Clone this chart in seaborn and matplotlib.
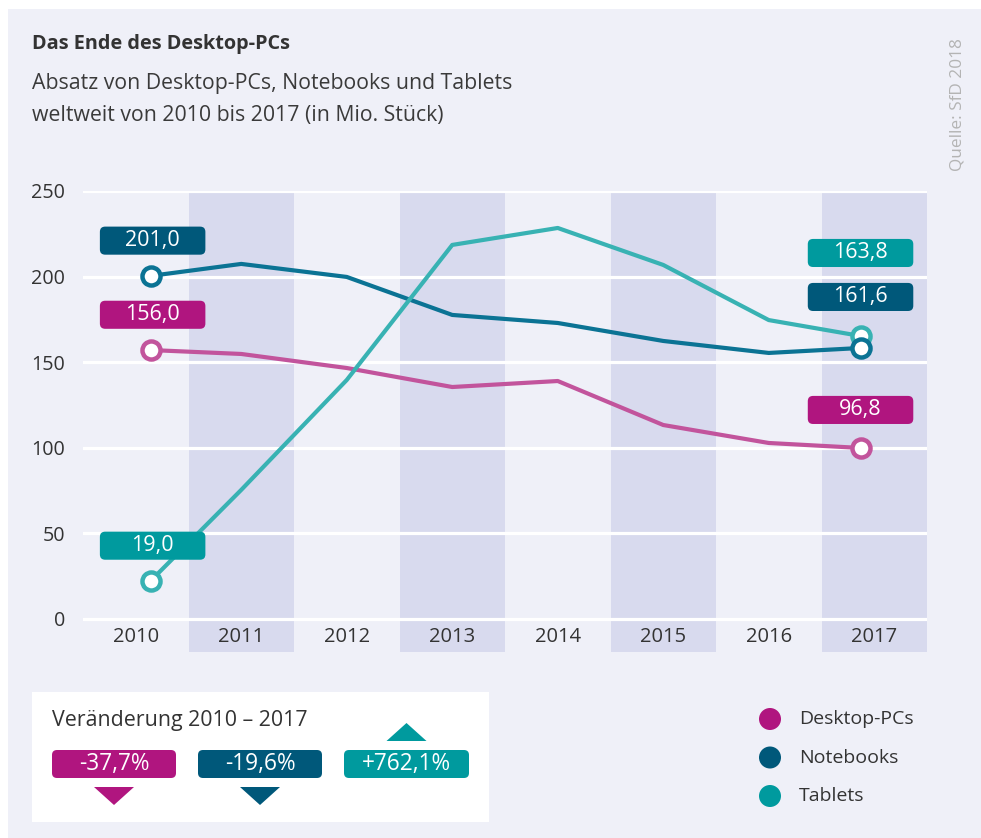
import numpy as np
import pandas as pd
import seaborn as sns
import matplotlib.pyplot as plt
from matplotlib.patches import FancyBboxPatch, Rectangle, Polygon, Circle

years = [2010, 2011, 2012, 2013, 2014, 2015, 2016, 2017]
desktop = [157.1, 154.8, 146.6, 135.5, 139.0, 113.3, 102.8, 99.9]
notebooks = [200.4, 207.4, 199.8, 177.6, 172.9, 162.4, 155.4, 158.3]
tablets = [22.2, 75.4, 139.6, 218.5, 228.4, 206.8, 174.6, 165.3]

series = ["Desktop-PCs", "Notebooks", "Tablets"]
start_labels = ["156,0", "201,0", "19,0"]
end_labels = ["96,8", "161,6", "163,8"]
changes = ["-37,7%", "-19,6%", "+762,1%"]
y_ticks = [0, 50, 100, 150, 200, 250]

dark = ["#b0157f", "#00587a", "#009a9e"]
light = ["#c2549c", "#0b7394", "#38b2b3"]
BG = "#eff0f8"
BAND = "#d8daee"
TXT = "#333333"

df = pd.DataFrame({
    "Jahr": years * 3,
    "Absatz": desktop + notebooks + tablets,
    "Gerät": np.repeat(series, len(years)),
})
# end points sit a little inside the outer year columns
df["x"] = df["Jahr"].astype(float)
df.loc[df["Jahr"] == years[0], "x"] += 0.14
df.loc[df["Jahr"] == years[-1], "x"] -= 0.13

sns.set_style("white")
plt.rcParams["font.family"] = ["Open Sans", "DejaVu Sans"]

fig = plt.figure(figsize=(9.81, 8.38), dpi=100, facecolor="white")

# --------------------------------------------------
# background layer in pixel coordinates
# --------------------------------------------------
bg = fig.add_axes([0, 0, 1, 1], zorder=0)
bg.set_xlim(0, 981)
bg.set_ylim(838, 0)
bg.axis("off")
bg.add_patch(Rectangle((8, 9), 981, 838, color=BG, lw=0))

bg.text(32, 44, "Das Ende des Desktop-PCs", fontsize=14.3, fontweight="bold",
        color=TXT, va="center", ha="left")
bg.text(32, 83, "Absatz von Desktop-PCs, Notebooks und Tablets",
        fontsize=15.3, color="#3a3a3a", va="center", ha="left")
bg.text(32, 115, "weltweit von 2010 bis 2017 (in Mio. Stück)",
        fontsize=15.3, color="#3a3a3a", va="center", ha="left")
bg.text(958, 105, "Quelle: SfD 2018", fontsize=12.4, color="#b4b4b4",
        rotation=90, va="center", ha="center")

# change box
bg.add_patch(Rectangle((32, 692), 457, 130, color="white", lw=0))
bg.text(52, 720, "Veränderung 2010 – 2017", fontsize=15.4, color=TXT,
        va="center", ha="left")
box_x = [52, 198, 344]
box_w = [124, 124, 125]
for i, txt in enumerate(changes):
    bg.add_patch(FancyBboxPatch((box_x[i], 750), box_w[i], 28,
                                boxstyle="round,pad=0,rounding_size=5",
                                color=dark[i], lw=0))
    cx = box_x[i] + box_w[i] / 2
    bg.text(cx, 764, txt, fontsize=16.3, color="white", va="center", ha="center")
    if txt.startswith("-"):
        bg.add_patch(Polygon([(cx - 20, 787), (cx + 20, 787), (cx, 805)],
                             color=dark[i], lw=0))
    else:
        bg.add_patch(Polygon([(cx - 20, 741), (cx + 20, 741), (cx, 723)],
                             color=dark[i], lw=0))

# legend
for i, name in enumerate(series):
    yy = 719 + i * 38.5
    bg.add_patch(Circle((770, yy), 11, color=dark[i], lw=0))
    bg.text(799, yy, name, fontsize=14, color=TXT, va="center", ha="left")

# --------------------------------------------------
# chart
# --------------------------------------------------
ax = fig.add_axes([83 / 981, 1 - 652 / 838, 844 / 981, 461 / 838], zorder=1)
ax.set_facecolor(BG)
ax.set_xlim(2009.5, 2017.5)
ax.set_ylim(-19.3, 250)

for yr in years:
    if yr % 2 == 1:
        ax.axvspan(yr - 0.5, yr + 0.5, color=BAND, lw=0, zorder=0)

for t in y_ticks:
    ax.axhline(t, color="white", lw=2.3, zorder=1)

sns.lineplot(data=df, x="x", y="Absatz", hue="Gerät", palette=light,
             lw=3, legend=False, ax=ax, zorder=3)

for i, name in enumerate(series):
    sub = df[df["Gerät"] == name]
    xs = sub["x"].to_numpy()
    vals = sub["Absatz"].to_numpy()
    z = 5 if name == "Notebooks" else 4
    ax.plot([xs[0], xs[-1]], [vals[0], vals[-1]], ls="none", marker="o",
            ms=13, mew=3.2, mfc="white", mec=light[i], zorder=z)

xw = 1.0
yh = 16.4
asp = (844 / 8) / (428 / 250)
end_off = [22.2, 29.8, 48.5]
for i, name in enumerate(series):
    sub = df[df["Gerät"] == name]
    xs = sub["x"].to_numpy()
    vals = sub["Absatz"].to_numpy()
    for xx, yy, txt in [(xs[0] + 0.02, vals[0] + 20.6, start_labels[i]),
                        (xs[-1], vals[-1] + end_off[i], end_labels[i])]:
        ax.add_patch(FancyBboxPatch((xx - xw / 2, yy - yh / 2), xw, yh,
                                    boxstyle="round,pad=0,rounding_size=0.05",
                                    mutation_aspect=asp, color=dark[i], lw=0,
                                    zorder=6))
        ax.text(xx, yy, txt, fontsize=15.5, color="white", ha="center",
                va="center", zorder=7)

for yr in years:
    ax.text(yr, -10.5, str(yr), fontsize=14.5, color=TXT, ha="center", va="center")

ax.set_xticks([])
ax.set_yticks(y_ticks)
ax.set_yticklabels([str(t) for t in y_ticks], fontsize=14.2, color=TXT)
ax.tick_params(axis="y", length=0, pad=13)
ax.set_xlabel("")
ax.set_ylabel("")
sns.despine(ax=ax, left=True, bottom=True)

fig.savefig("out.png", dpi=100, facecolor="white")
